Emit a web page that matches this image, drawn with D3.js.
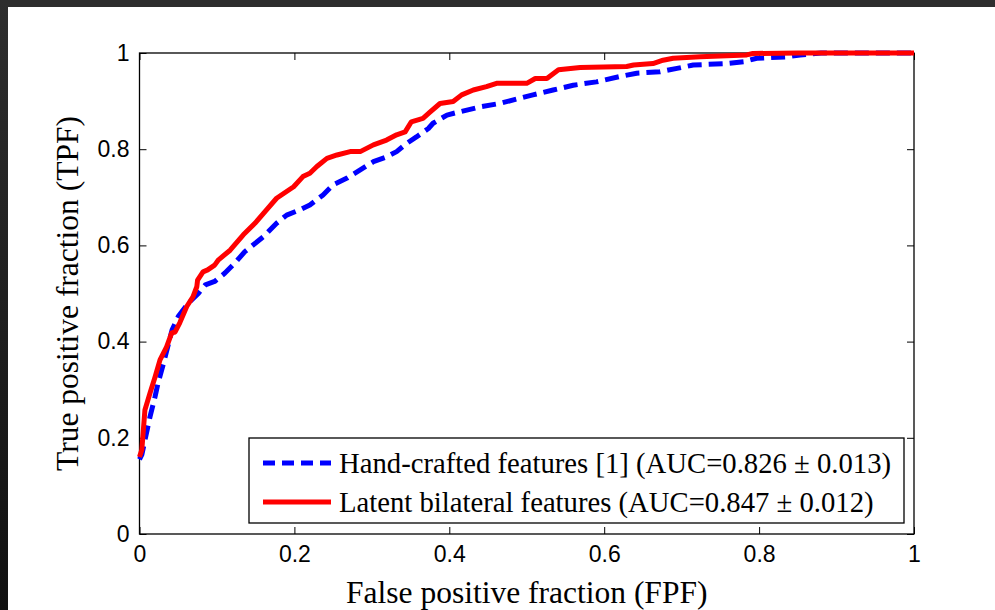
<!DOCTYPE html>
<html>
<head>
<meta charset="utf-8">
<script src="https://cdn.jsdelivr.net/npm/d3@7"></script>
<style>
html,body{margin:0;padding:0;background:#fff;}
svg{display:block;}
</style>
</head>
<body>
<svg id="chart" width="995" height="610"></svg>
<script>
// ---- Data ----
const xTicks = [0, 0.2, 0.4, 0.6, 0.8, 1];
const yTicks = [0, 0.2, 0.4, 0.6, 0.8, 1];
const tickLabels = ["0", "0.2", "0.4", "0.6", "0.8", "1"];

const seriesNames = [
  "Hand-crafted features [1] (AUC=0.826 \u00b1 0.013)",
  "Latent bilateral features (AUC=0.847 \u00b1 0.012)"
];

const fprHand = [0,0.003,0.0136,0.02,0.024,0.031,0.042,0.05,0.063,0.076,0.085,0.097,0.11,0.123,0.136,0.16,0.177,0.19,0.207,0.22,0.237,0.25,0.268,0.285,0.302,0.319,0.332,0.345,0.358,0.373,0.379,0.397,0.414,0.44,0.465,0.491,0.508,0.534,0.56,0.59,0.62,0.642,0.672,0.694,0.715,0.758,0.78,0.797,0.836,0.853,0.88,1];
const tprHand = [0.155,0.165,0.244,0.285,0.314,0.355,0.424,0.452,0.48,0.5,0.518,0.525,0.542,0.563,0.587,0.618,0.646,0.663,0.674,0.684,0.705,0.726,0.74,0.757,0.774,0.784,0.795,0.812,0.826,0.843,0.854,0.871,0.878,0.888,0.895,0.906,0.913,0.923,0.933,0.94,0.951,0.958,0.961,0.968,0.975,0.978,0.982,0.989,0.992,0.996,1,1];

const fprLatent = [0,0.003,0.007,0.0136,0.02,0.0265,0.035,0.0416,0.046,0.052,0.061,0.069,0.074,0.075,0.082,0.088,0.097,0.102,0.117,0.134,0.149,0.164,0.177,0.199,0.211,0.22,0.229,0.242,0.255,0.272,0.285,0.302,0.319,0.332,0.343,0.351,0.366,0.375,0.388,0.405,0.416,0.431,0.448,0.461,0.5,0.511,0.526,0.541,0.569,0.629,0.638,0.663,0.676,0.689,0.724,0.784,0.792,0.85,1];
const tprLatent = [0.16,0.175,0.258,0.293,0.326,0.362,0.389,0.418,0.42,0.439,0.473,0.493,0.514,0.528,0.545,0.549,0.559,0.57,0.59,0.622,0.646,0.674,0.698,0.722,0.743,0.75,0.764,0.781,0.788,0.795,0.795,0.809,0.819,0.83,0.836,0.857,0.864,0.877,0.895,0.899,0.913,0.923,0.93,0.937,0.937,0.947,0.947,0.965,0.97,0.972,0.975,0.978,0.985,0.989,0.992,0.996,0.999,1,1];

// ---- Layout ----
const svg = d3.select("#chart");
const W = 995, H = 610;
const plot = {left: 139.5, top: 53, right: 914, bottom: 534};

// dark frame at top / left (screenshot border)
const defs = svg.append("defs");
const grad = defs.append("linearGradient").attr("id","leftband").attr("x1",0).attr("y1",0).attr("x2",0).attr("y2",1);
grad.append("stop").attr("offset","0%").attr("stop-color","#2e2e2e");
grad.append("stop").attr("offset","100%").attr("stop-color","#111111");
svg.append("rect").attr("x",0).attr("y",0).attr("width",W).attr("height",7).attr("fill","#2e2e2e");
svg.append("rect").attr("x",0).attr("y",0).attr("width",8).attr("height",H).attr("fill","url(#leftband)");

const x = d3.scaleLinear().domain([0,1]).range([plot.left, plot.right]);
const y = d3.scaleLinear().domain([0,1]).range([plot.bottom, plot.top]);

const tickFont = "'Liberation Sans', Arial, sans-serif";
const serif = "'Liberation Serif', 'Times New Roman', serif";
const tickLen = 7;

// Axes (MATLAB-like, ticks inward on all four sides)
const xAxisB = d3.axisBottom(x).tickValues(xTicks).tickFormat((d)=>tickLabels[xTicks.indexOf(d)]).tickSizeInner(-tickLen).tickSizeOuter(0).tickPadding(12);
const yAxisL = d3.axisLeft(y).tickValues(yTicks).tickFormat((d)=>tickLabels[yTicks.indexOf(d)]).tickSizeInner(-tickLen).tickSizeOuter(0).tickPadding(10);
const xAxisT = d3.axisTop(x).tickValues(xTicks).tickFormat("").tickSizeInner(-tickLen).tickSizeOuter(0);
const yAxisR = d3.axisRight(y).tickValues(yTicks).tickFormat("").tickSizeInner(-tickLen).tickSizeOuter(0);

function styleAxis(g){
  g.select(".domain").remove();
  g.selectAll(".tick line").attr("stroke","#000").attr("stroke-width",1);
  g.selectAll(".tick text").attr("fill","#000").style("font-family",tickFont).style("font-size","23px");
}
svg.append("g").attr("transform",`translate(0,${plot.bottom})`).call(xAxisB).call(styleAxis);
svg.append("g").attr("transform",`translate(${plot.left},0)`).call(yAxisL).call(styleAxis);
svg.append("g").attr("transform",`translate(0,${plot.top})`).call(xAxisT).call(styleAxis);
svg.append("g").attr("transform",`translate(${plot.right},0)`).call(yAxisR).call(styleAxis);

// Box
svg.append("rect").attr("x",plot.left).attr("y",plot.top)
  .attr("width",plot.right-plot.left).attr("height",plot.bottom-plot.top)
  .attr("fill","none").attr("stroke","#000").attr("stroke-width",1.3);

// Curves
const line = d3.line().x(d=>x(d[0])).y(d=>y(d[1]));
const handData = fprHand.map((f,i)=>[f,tprHand[i]]);
const latentData = fprLatent.map((f,i)=>[f,tprLatent[i]]);

svg.append("path").datum(handData).attr("d",line)
  .attr("fill","none").attr("stroke","#0000ff").attr("stroke-width",5)
  .attr("stroke-dasharray","14,7").attr("stroke-linejoin","round");
svg.append("path").datum(latentData).attr("d",line)
  .attr("fill","none").attr("stroke","#ff0000").attr("stroke-width",5)
  .attr("stroke-linejoin","round");

// Axis labels
svg.append("text").attr("x",(plot.left+plot.right)/2).attr("y",603)
  .attr("text-anchor","middle").style("font-family",serif).style("font-size","31.5px")
  .attr("fill","#000").text("False positive fraction (FPF)");
svg.append("text").attr("transform",`translate(78,${(plot.top+plot.bottom)/2}) rotate(-90)`)
  .attr("text-anchor","middle").style("font-family",serif).style("font-size","31.5px")
  .attr("fill","#000").text("True positive fraction (TPF)");

// Legend
const lg = svg.append("g");
lg.append("rect").attr("x",249).attr("y",438).attr("width",655).attr("height",85)
  .attr("fill","#fff").attr("stroke","#000").attr("stroke-width",1.3);
const legendItems = [
  {name: seriesNames[0], color:"#0000ff", dash:"12,7", cy:463},
  {name: seriesNames[1], color:"#ff0000", dash:null, cy:502}
];
legendItems.forEach(it=>{
  lg.append("line").attr("x1",263).attr("x2",331).attr("y1",it.cy).attr("y2",it.cy)
    .attr("stroke",it.color).attr("stroke-width",5)
    .attr("stroke-dasharray",it.dash);
  lg.append("text").attr("x",339).attr("y",it.cy+10)
    .style("font-family",serif).style("font-size","28.7px").attr("fill","#000").text(it.name);
});
</script>
</body>
</html>
